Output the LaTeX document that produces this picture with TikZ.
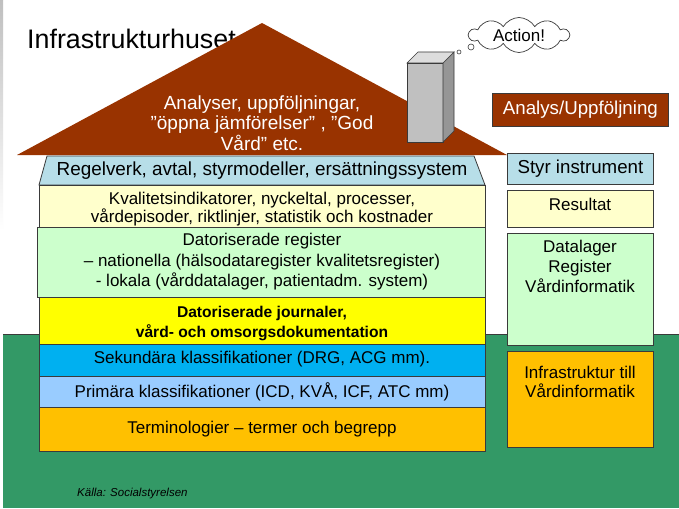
\documentclass[tikz,border=0pt]{standalone}
\usepackage{fontspec}
\setmainfont{Liberation Sans}
\usetikzlibrary{shapes.symbols}
\definecolor{roofred}{HTML}{993300}
\definecolor{ground}{HTML}{339966}
\definecolor{lblue}{HTML}{B7DEE8}
\definecolor{lyellow}{HTML}{FFFFCC}
\definecolor{lgreen}{HTML}{CCFFCC}
\definecolor{yel}{HTML}{FFFF00}
\definecolor{cyanb}{HTML}{00B0F0}
\definecolor{skyb}{HTML}{99CCFF}
\definecolor{orng}{HTML}{FFC000}
\definecolor{chfront}{HTML}{C0C0C0}
\definecolor{chside}{HTML}{969696}
\definecolor{chtop}{HTML}{DDDDDD}
\definecolor{edge}{HTML}{3A3A3A}
\tikzset{
  box/.style={draw=edge, line width=0.8pt, inner sep=0pt, anchor=north west},
  txt/.style={align=center, inner sep=0pt, text=black},
  f18/.style={font=\fontsize{18.7}{21}\selectfont},
  f17/.style={font=\fontsize{17}{20.5}\selectfont},
}
\begin{document}
\begin{tikzpicture}[x=1pt,y=-1pt]
\useasboundingbox (0,0) rectangle (679,508);
\fill[white] (0,0) rectangle (679,508);
\shade[top color=gray!50, bottom color=white] (0,0) rectangle (3,230);
% ground
\fill[ground] (3,334) rectangle (679,508);
\draw[edge, line width=1pt] (3,334) -- (679,334);
% title
\node[txt, anchor=west, font=\fontsize{26.8}{30}\selectfont] (title) at (27,39) {Infrastrukturhuset};
% roof
\fill[roofred] (17,155) -- (262,23) -- (507,155) -- cycle;
\node[txt, text=white, font=\fontsize{19}{20.5}\selectfont] (roof) at (262,123) {Analyser, uppföljningar,\\ ”öppna jämförelser” , ”God\\ Vård” etc.};
% chimney
\fill[chfront, draw=edge, line width=0.6pt] (407,63) rectangle (443,142);
\fill[chside, draw=edge, line width=0.6pt] (443,63) -- (454,52) -- (454,131) -- (443,142) -- cycle;
\fill[chtop, draw=edge, line width=0.6pt] (407,63) -- (418,52) -- (454,52) -- (443,63) -- cycle;
% thought bubble
\node[cloud, cloud puffs=10, cloud puff arc=120, aspect=3.2, draw=edge, fill=white, line width=0.7pt,
      minimum width=100pt, minimum height=33pt, inner sep=0pt, font=\fontsize{17}{19}\selectfont] (cloud) at (519,35) {Action!};
\node[circle, draw=edge, fill=white, line width=0.6pt, minimum size=6pt, inner sep=0pt] (b1) at (471,47) {};
\node[circle, draw=edge, fill=white, line width=0.6pt, minimum size=4pt, inner sep=0pt] (b2) at (459,52) {};
% right column
\node[box, fill=roofred, minimum width=176pt, minimum height=33pt] (analys) at (492,93) {};
\node[txt, f18, text=white] (analyst) at (analys.center) {Analys/Uppföljning};
\node[box, fill=lblue, minimum width=146pt, minimum height=31pt] (styr) at (507,153) {};
\node[txt, f18] (styrt) at (styr.center) {Styr instrument};
\node[box, fill=lyellow, minimum width=146pt, minimum height=37pt] (res) at (507,190) {};
\node[txt, f17] (rest) at (580,204) {Resultat};
\node[box, fill=lgreen, minimum width=146pt, minimum height=112pt] (dl) at (507,233) {};
\node[txt, font=\fontsize{17}{20}\selectfont, anchor=north] (dlt) at (580,240) {Datalager\\ Register\\ Vårdinformatik};
\node[box, fill=orng, minimum width=146pt, minimum height=96pt] (inf) at (507,351) {};
\node[txt, font=\fontsize{17}{19}\selectfont, anchor=north] (inft) at (580,366) {Infrastruktur till\\ Vårdinformatik};
% left stack
\filldraw[fill=lblue, draw=edge, line width=0.8pt] (47,156) -- (474,156) -- (485,185) -- (39,185) -- cycle;
\node[txt, font=\fontsize{18.9}{21}\selectfont] (regel) at (262,171) {Regelverk, avtal, styrmodeller, ersättningssystem};
\node[box, fill=lyellow, minimum width=446pt, minimum height=42pt] (kval) at (39,185) {};
\node[txt, font=\fontsize{17}{18}\selectfont] (kvalt) at (262,209) {Kvalitetsindikatorer, nyckeltal, processer,\\ vårdepisoder, riktlinjer, statistik och kostnader};
\node[box, fill=lgreen, minimum width=448pt, minimum height=70pt] (reg) at (37,227) {};
\node[txt, font=\fontsize{17}{20.5}\selectfont] (regt) at (262,262) {Datoriserade register\\ – nationella (hälsodataregister kvalitetsregister)\\ - lokala (vårddatalager, patientadm. system)};
\node[box, fill=yel, minimum width=446pt, minimum height=47pt] (jour) at (39,297) {};
\node[txt, font=\fontsize{15.6}{20}\selectfont\bfseries] (jourt) at (262,323) {Datoriserade journaler,\\ vård- och omsorgsdokumentation};
\node[box, fill=cyanb, minimum width=446pt, minimum height=32pt] (sek) at (39,344) {};
\node[txt, f17] (sekt) at (262,359) {Sekundära klassifikationer (DRG, ACG mm).};
\node[box, fill=skyb, minimum width=446pt, minimum height=31pt] (prim) at (39,376) {};
\node[txt, f17] (primt) at (262,392) {Primära klassifikationer (ICD, KVÅ, ICF, ATC mm)};
\node[box, fill=orng, minimum width=446pt, minimum height=44pt] (term) at (39,407) {};
\node[txt, f17] (termt) at (262,429) {Terminologier – termer och begrepp};
% source
\node[txt, anchor=west, font=\fontsize{11.5}{13}\selectfont\itshape] (src) at (77,494) {Källa: Socialstyrelsen};
\end{tikzpicture}
\end{document}
